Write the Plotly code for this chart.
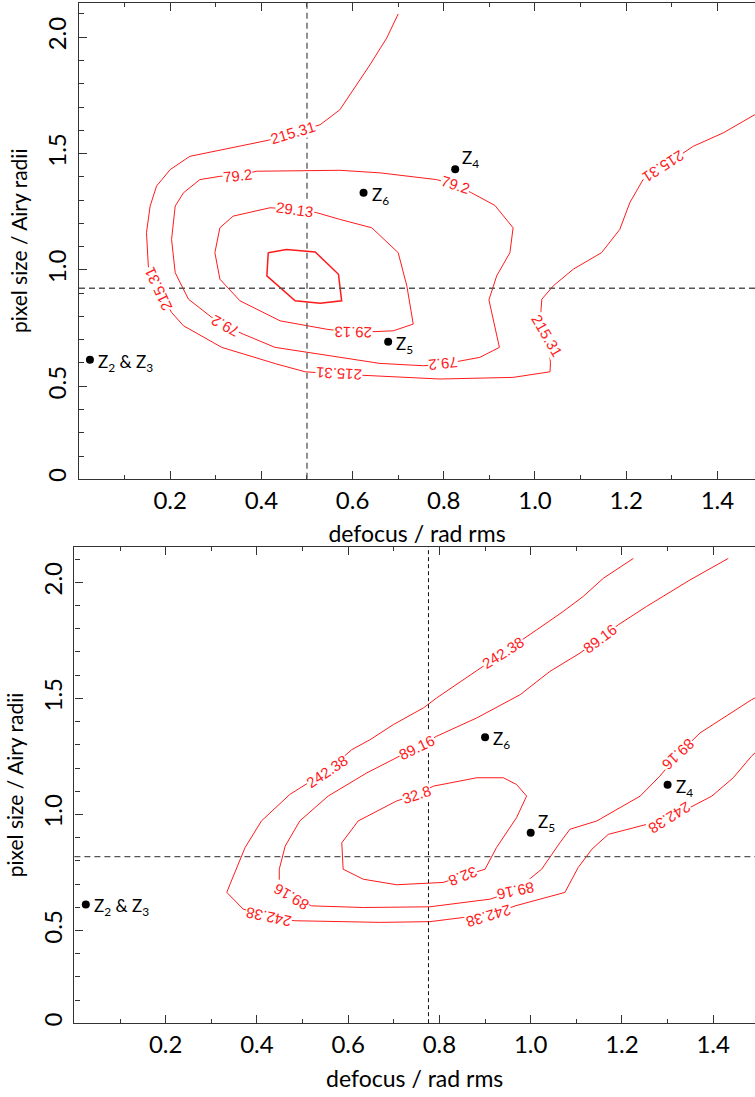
import plotly.graph_objects as go

# ---------------- data: top panel ----------------
top_c215_x = [0.700, 0.675, 0.638, 0.587, 0.572, 0.529, 0.469, 0.415, 0.243, 0.200, 0.170, 0.156, 0.148, 0.152,
              0.173, 0.203, 0.229, 0.313, 0.434, 0.496, 0.569, 0.638, 0.792, 0.952, 1.033, 1.034, 1.026, 1.013,
              1.015, 1.040, 1.084, 1.146, 1.186, 1.208, 1.237, 1.281, 1.347, 1.413, 1.482, 1.520]
top_c215_y = [2.100, 1.997, 1.881, 1.731, 1.688, 1.624, 1.589, 1.557, 1.488, 1.431, 1.360, 1.274, 1.160, 1.017,
              0.917, 0.817, 0.760, 0.667, 0.595, 0.562, 0.552, 0.545, 0.531, 0.538, 0.562, 0.603, 0.717, 0.824,
              0.874, 0.931, 1.003, 1.074, 1.174, 1.289, 1.388, 1.444, 1.531, 1.589, 1.667, 1.685]

top_c79_x = [0.265, 0.309, 0.348, 0.390, 0.572, 0.660, 0.784, 0.825, 0.861, 0.912, 0.952, 0.945, 0.916, 0.899,
             0.922, 0.879, 0.799, 0.755, 0.660, 0.430, 0.360, 0.320, 0.291, 0.240, 0.211, 0.203, 0.211, 0.229, 0.265]
top_c79_y = [1.388, 1.402, 1.406, 1.424, 1.428, 1.417, 1.388, 1.367, 1.331, 1.277, 1.181, 1.074, 0.974, 0.871,
             0.667, 0.624, 0.595, 0.588, 0.598, 0.667, 0.724, 0.760, 0.796, 0.874, 0.988, 1.131, 1.274, 1.331, 1.388]

top_c29_x = [0.338, 0.419, 0.474, 0.521, 0.572, 0.642, 0.700, 0.719, 0.733, 0.689, 0.602, 0.543, 0.441, 0.353,
             0.309, 0.298, 0.309, 0.338]
top_c29_y = [1.231, 1.267, 1.260, 1.246, 1.217, 1.181, 1.074, 0.931, 0.767, 0.738, 0.731, 0.745, 0.781, 0.867,
             0.960, 1.074, 1.181, 1.231]

top_cin_x = [0.415, 0.455, 0.518, 0.569, 0.576, 0.529, 0.474, 0.412, 0.415]
top_cin_y = [1.074, 1.088, 1.077, 0.981, 0.867, 0.857, 0.867, 0.974, 1.074]

top_lab_text = ["215.31", "215.31", "215.31", "215.31", "215.31", "79.2", "79.2", "79.2", "79.2", "29.13", "29.13"]
top_lab_x = [0.469, 0.173, 0.569, 1.026, 1.281, 0.348, 0.825, 0.799, 0.320, 0.474, 0.602]
top_lab_y = [1.589, 0.917, 0.552, 0.717, 1.444, 1.406, 1.367, 0.595, 0.760, 1.260, 0.731]
top_lab_angle = [-17, -115, -177, 60, 147, -6, 18, 174, -152, 8, -179]

top_pt_names = ["Z<sub>2</sub> & Z<sub>3</sub>", "Z<sub>4</sub>", "Z<sub>5</sub>", "Z<sub>6</sub>"]
top_pt_x = [0.024, 0.825, 0.678, 0.624]
top_pt_y = [0.614, 1.433, 0.691, 1.331]
top_cross = (0.5, 0.921)

# ---------------- data: bottom panel ----------------
bot_c242_x = [1.225, 1.159, 1.115, 1.071, 1.013, 0.940, 0.867, 0.794, 0.765, 0.699, 0.648, 0.608, 0.553, 0.472,
              0.410, 0.374, 0.341, 0.334, 0.370, 0.425, 0.483, 0.670, 0.779, 0.852, 0.907, 0.966, 1.075, 1.086,
              1.104, 1.134, 1.170, 1.254, 1.305, 1.397, 1.444, 1.484, 1.503]
bot_c242_y = [2.103, 2.017, 1.939, 1.874, 1.795, 1.698, 1.602, 1.502, 1.459, 1.387, 1.322, 1.279, 1.186, 1.086,
              0.972, 0.857, 0.699, 0.664, 0.592, 0.559, 0.542, 0.535, 0.538, 0.556, 0.563, 0.606, 0.664, 0.706,
              0.771, 0.850, 0.914, 0.957, 0.984, 1.079, 1.158, 1.251, 1.287]

bot_c89_x = [1.433, 1.349, 1.254, 1.192, 1.152, 1.108, 1.042, 0.977, 0.882, 0.794, 0.750, 0.706, 0.641, 0.556,
             0.494, 0.462, 0.449, 0.449, 0.476, 0.520, 0.633, 0.779, 0.911, 0.966, 0.991, 1.024, 1.064, 1.086,
             1.145, 1.240, 1.283, 1.323, 1.371, 1.444, 1.484, 1.503]
bot_c89_y = [2.103, 2.010, 1.896, 1.817, 1.759, 1.695, 1.616, 1.516, 1.416, 1.337, 1.289, 1.244, 1.179, 1.079,
             0.972, 0.864, 0.764, 0.692, 0.645, 0.606, 0.599, 0.602, 0.635, 0.671, 0.711, 0.764, 0.878, 0.936,
             0.972, 1.079, 1.165, 1.258, 1.351, 1.444, 1.494, 1.514]

bot_c33_x = [0.787, 0.882, 0.940, 0.969, 0.991, 0.969, 0.925, 0.900, 0.852, 0.808, 0.706, 0.633, 0.589, 0.586,
             0.622, 0.706, 0.750, 0.787]
bot_c33_y = [1.122, 1.158, 1.158, 1.129, 1.079, 0.986, 0.857, 0.764, 0.735, 0.707, 0.697, 0.721, 0.764, 0.878,
             0.972, 1.058, 1.086, 1.122]

bot_lab_text = ["242.38", "242.38", "242.38", "242.38", "242.38", "89.16", "89.16", "89.16", "89.16", "89.16",
                "32.8", "32.8"]
bot_lab_x = [0.940, 0.553, 0.425, 0.907, 1.305, 1.152, 0.750, 0.476, 0.966, 1.323, 0.750, 0.852]
bot_lab_y = [1.698, 1.186, 0.559, 0.563, 0.984, 1.759, 1.289, 0.645, 0.671, 1.258, 1.086, 0.735]
bot_lab_angle = [-32, -34, -168, 163, 148, -37, -26, -150, 168, 137, -18, 158]

bot_pt_names = ["Z<sub>2</sub> & Z<sub>3</sub>", "Z<sub>4</sub>", "Z<sub>5</sub>", "Z<sub>6</sub>"]
bot_pt_x = [0.025, 1.300, 1.000, 0.900]
bot_pt_y = [0.612, 1.128, 0.921, 1.333]
bot_cross = (0.776, 0.818)

x_major = [0.2, 0.4, 0.6, 0.8, 1.0, 1.2, 1.4]
x_major_text = ["0.2", "0.4", "0.6", "0.8", "1.0", "1.2", "1.4"]
x_minor = [0.1, 0.3, 0.5, 0.7, 0.9, 1.1, 1.3]
y_major_text = ["0", "0.5", "1.0", "1.5", "2.0"]
y_minor = [0.2, 0.3, 0.4, 0.6, 0.7, 0.8, 0.9, 1.1, 1.2, 1.3, 1.4, 1.6, 1.7, 1.8, 1.9, 2.1]

RED = "#ff1a1a"
AXFONT = "Lato"
LBLFONT = "Liberation Sans"

fig = go.Figure()


def add_line(x, y, xa, ya, width=1.0):
    fig.add_trace(go.Scatter(x=x, y=y, mode="lines", line=dict(color=RED, width=width),
                             xaxis=xa, yaxis=ya, hoverinfo="skip", showlegend=False))


add_line(top_c215_x, top_c215_y, "x", "y")
add_line(top_c79_x, top_c79_y, "x", "y")
add_line(top_c29_x, top_c29_y, "x", "y")
add_line(top_cin_x, top_cin_y, "x", "y", 1.5)
add_line(bot_c242_x, bot_c242_y, "x2", "y2")
add_line(bot_c89_x, bot_c89_y, "x2", "y2")
add_line(bot_c33_x, bot_c33_y, "x2", "y2")

fig.add_trace(go.Scatter(x=top_pt_x, y=top_pt_y, mode="markers", marker=dict(color="black", size=8),
                         xaxis="x", yaxis="y", showlegend=False, cliponaxis=False))
fig.add_trace(go.Scatter(x=bot_pt_x, y=bot_pt_y, mode="markers", marker=dict(color="black", size=8),
                         xaxis="x2", yaxis="y2", showlegend=False, cliponaxis=False))

annotations = []
for t, x, y, a in zip(top_lab_text, top_lab_x, top_lab_y, top_lab_angle):
    annotations.append(dict(text=t, x=x, y=y, xref="x", yref="y", textangle=a, showarrow=False,
                            font=dict(family=LBLFONT, size=15, color=RED), bgcolor="white", borderpad=0))
for t, x, y, a in zip(bot_lab_text, bot_lab_x, bot_lab_y, bot_lab_angle):
    annotations.append(dict(text=t, x=x, y=y, xref="x2", yref="y2", textangle=a, showarrow=False,
                            font=dict(family=LBLFONT, size=15, color=RED), bgcolor="white", borderpad=0))

# point labels: (panel, index) -> placement
above = {("top", 1), ("bot", 2)}
for panel, names, xs, ys, xr, yr in [("top", top_pt_names, top_pt_x, top_pt_y, "x", "y"),
                                      ("bot", bot_pt_names, bot_pt_x, bot_pt_y, "x2", "y2")]:
    for i, (n, x, y) in enumerate(zip(names, xs, ys)):
        if (panel, i) in above:
            annotations.append(dict(text=n, x=x, y=y, xref=xr, yref=yr, showarrow=False, xanchor="left",
                                    yanchor="bottom", xshift=5, yshift=-4,
                                    font=dict(family=AXFONT, size=17, color="black")))
        else:
            annotations.append(dict(text=n, x=x, y=y, xref=xr, yref=yr, showarrow=False, xanchor="left",
                                    yanchor="middle", xshift=6, yshift=-3,
                                    font=dict(family=AXFONT, size=17, color="black")))

shapes = [
    dict(type="line", xref="x", yref="y domain", x0=top_cross[0], x1=top_cross[0], y0=0, y1=1,
         line=dict(color="#555555", width=1.3, dash="6px,4px")),
    dict(type="line", xref="x domain", yref="y", x0=0, x1=1, y0=top_cross[1], y1=top_cross[1],
         line=dict(color="#555555", width=1.3, dash="6px,4px")),
    dict(type="line", xref="x2", yref="y2 domain", x0=bot_cross[0], x1=bot_cross[0], y0=0, y1=1,
         line=dict(color="#111111", width=1.0, dash="4px,3px")),
    dict(type="line", xref="x2 domain", yref="y2", x0=0, x1=1, y0=bot_cross[1], y1=bot_cross[1],
         line=dict(color="#555555", width=1.3, dash="6px,4px")),
]

W, H = 755, 1097


def xaxis(domain, rng, anchor):
    return dict(domain=domain, range=rng, anchor=anchor, showgrid=False, zeroline=False,
                showline=True, linecolor="#333333", linewidth=1.2, mirror="ticks",
                ticks="inside", ticklen=8, tickwidth=1, tickcolor="#333333",
                tickmode="array", tickvals=x_major, ticktext=x_major_text,
                minor=dict(tickmode="array", tickvals=x_minor, ticks="inside", ticklen=4,
                           tickcolor="#333333", showgrid=False),
                ticklabelstandoff=0,
                tickfont=dict(family=AXFONT, size=24, color="black"),
                title=dict(text="defocus / rad rms", font=dict(family=AXFONT, size=23, color="black"),
                           standoff=13))


def yaxis(domain, rng, anchor):
    return dict(domain=domain, range=rng, anchor=anchor, showgrid=False, zeroline=False,
                showline=True, linecolor="#333333", linewidth=1.2, mirror=False,
                ticks="inside", ticklen=8, tickwidth=1, tickcolor="#333333",
                tickmode="array", tickvals=[rng[0], 0.5, 1.0, 1.5, 2.0], ticktext=y_major_text,
                minor=dict(tickmode="array", tickvals=y_minor, ticks="inside", ticklen=5,
                           tickcolor="#333333", showgrid=False),
                tickangle=-90, ticklabelstandoff=2,
                tickfont=dict(family=AXFONT, size=24, color="black"),
                title=dict(text="pixel size / Airy radii", font=dict(family=AXFONT, size=21, color="black"),
                           standoff=8))


fig.update_layout(
    width=W, height=H, margin=dict(l=0, r=0, t=0, b=0),
    paper_bgcolor="white", plot_bgcolor="white", showlegend=False,
    xaxis=xaxis([79.0 / W, 1.0], [0, 1.4825], "y"),
    yaxis=yaxis([(H - 480) / H, (H - 3) / H], [0.1026, 2.147], "x"),
    xaxis2=xaxis([74.4 / W, 1.0], [0, 1.4916], "y2"),
    yaxis2=yaxis([(H - 1026) / H, (H - 548.3) / H], [0.1006, 2.153], "x2"),
    annotations=annotations, shapes=shapes,
)

fig.write_html("out.html")
